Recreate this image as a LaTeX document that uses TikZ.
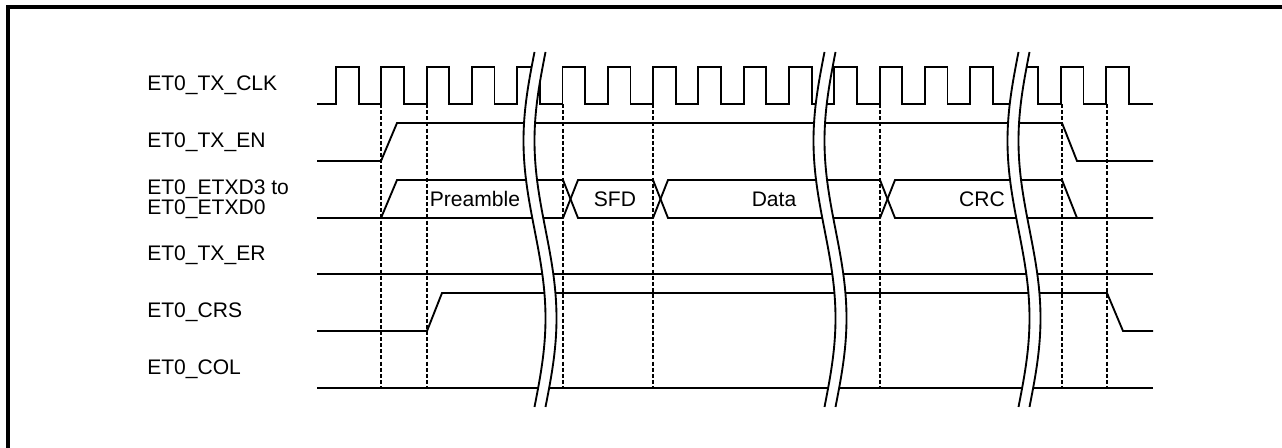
\documentclass[tikz,border=0pt]{standalone}
\usepackage{fontspec}
\setmainfont{Liberation Sans}

\begin{document}
\begin{tikzpicture}[
  x=0.75pt, y=-0.75pt,
  sig/.style={line width=1.4pt, line join=miter},
  guide/.style={line width=0.9pt, dash pattern=on 3pt off 1.6pt},
  signame/.style={anchor=west, inner sep=0pt, align=left, font=\fontsize{15.8}{15}\selectfont},
  busval/.style={inner sep=0pt, font=\fontsize{15.8}{15}\selectfont},
  gapline/.style={line width=1.4pt}
]
\useasboundingbox (0,0) rectangle (1282,448);
\draw[line width=2.3pt] (8,7) rectangle (1300,470);

% signal names
\node[signame] (clk) at (147,85.5) {ET0\_TX\_CLK};
\node[signame] (en) at (147,142.5) {ET0\_TX\_EN};
\node[signame] (txd) at (147,199) {ET0\_ETXD3 to\\ET0\_ETXD0};
\node[signame] (er) at (147,255.5) {ET0\_TX\_ER};
\node[signame] (crs) at (147,312.5) {ET0\_CRS};
\node[signame] (col) at (147,369.5) {ET0\_COL};

% timing guides
\foreach \t in {381,427,563,653,880,1062,1107}
  \draw[guide] (\t,104) -- (\t,388);

% TX_CLK
\draw[sig] (317,104)
  foreach \k in {0,...,17} {
    -- ({336+45.3*\k},104) -- ({336+45.3*\k},67)
    -- ({358.65+45.3*\k},67) -- ({358.65+45.3*\k},104)
  } -- (1153,104);

% TX_EN
\draw[sig] (317,161) -- (381,161) -- (397,123) -- (1062,123) -- (1077,161) -- (1153,161);

% ETXD3..0
\draw[sig] (317,218) -- (381,218) -- (397,180) -- (563,180) -- (578,218) -- (653,218)
  -- (668,180) -- (880,180) -- (895,218) -- (1153,218);
\draw[sig] (381,218) -- (563,218) -- (578,180) -- (653,180) -- (668,218) -- (880,218)
  -- (895,180) -- (1062,180) -- (1077,218);
\node[busval] (pre) at (475,199) {Preamble};
\node[busval] (sfd) at (615,199) {SFD};
\node[busval] (data) at (774,199) {Data};
\node[busval] (crc) at (982,199) {CRC};

% TX_ER, CRS, COL
\draw[sig] (317,274) -- (1153,274);
\draw[sig] (317,331) -- (427,331) -- (442,293) -- (1107,293) -- (1123,331) -- (1153,331);
\draw[sig] (317,388) -- (1153,388);

% time breaks
\foreach \c in {540,830,1024} {
  \draw[white, line width=8pt] plot[domain=52:407, samples=60, smooth] ({\c-11*sin(1.01408*(\x-52))}, \x);
  \draw[gapline] plot[domain=52:407, samples=60, smooth] ({\c-5.5-11*sin(1.01408*(\x-52))}, \x);
  \draw[gapline] plot[domain=52:407, samples=60, smooth] ({\c+5.5-11*sin(1.01408*(\x-52))}, \x);
}
\end{tikzpicture}
\end{document}
